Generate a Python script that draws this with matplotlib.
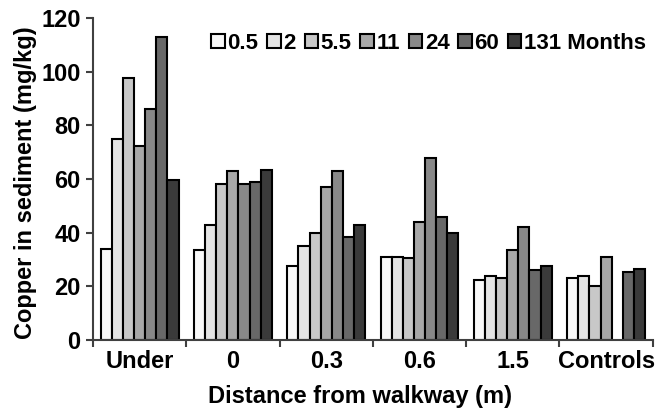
import numpy as np
import matplotlib
matplotlib.use('Agg')
import matplotlib.pyplot as plt

# Copper in sediment (mg/kg) by distance from walkway, one series per age
distances = ['Under', '0', '0.3', '0.6', '1.5', 'Controls']
ages = ['0.5', '2', '5.5', '11', '24', '60', '131 Months']
copper = {
    '0.5': [34, 33.5, 27.5, 31, 22.5, 23],
    '2': [75, 43, 35, 31, 24, 24],
    '5.5': [97.5, 58, 40, 30.5, 23, 20],
    '11': [72.5, 63, 57, 44, 33.5, 31],
    '24': [86, 58, 63, 68, 42, np.nan],
    '60': [113, 58.8, 38.5, 46, 26, 25.5],
    '131 Months': [59.5, 63.5, 43, 40, 27.5, 26.5],
}
shades = ['#f8f8f8', '#e4e4e4', '#c8c8c8', '#a8a8a8', '#888888', '#686868', '#3a3a3a']

plt.rcParams['font.family'] = ['Liberation Sans', 'DejaVu Sans']
plt.rcParams['font.weight'] = 'bold'
plt.rcParams['font.size'] = 17

fig = plt.figure(figsize=(6.62, 4.13), dpi=100)
ax = fig.add_axes([0.1405, 0.177, 0.8455, 0.779])

x = np.arange(len(distances))
width = 0.119
for i, age in enumerate(ages):
    offset = (i - 3) * width
    ax.bar(x + offset, copper[age], width, color=shades[i], edgecolor='black',
           linewidth=1.5, label=age)

ax.set_xlim(-0.5, len(distances) - 0.5)
ax.set_ylim(0, 120)
ax.set_yticks(range(0, 121, 20))
ax.set_xticks(x)
ax.set_xticklabels(distances)
ax.set_xticks(np.arange(-0.5, len(distances), 1), minor=True)
ax.tick_params(axis='x', which='major', length=0, pad=7.5)
ax.tick_params(axis='x', which='minor', length=5, width=1.5, color='#404040', direction='out')
ax.tick_params(axis='y', length=5, width=1.5, color='#404040', direction='out', pad=4)

for side in ['top', 'right']:
    ax.spines[side].set_visible(False)
for side in ['left', 'bottom']:
    ax.spines[side].set_color('#404040')
    ax.spines[side].set_linewidth(1.5)

ax.set_ylabel('Copper in sediment (mg/kg)', fontweight='bold')
ax.set_xlabel('Distance from walkway (m)', fontweight='bold')
ax.xaxis.set_label_coords(0.477, -0.14)
ax.yaxis.set_label_coords(-0.1, 0.488)

ax.legend(ncol=7, frameon=False, loc='upper right', bbox_to_anchor=(1.0, 0.975),
          handlelength=0.6, handleheight=0.6, handletextpad=0.12, columnspacing=0.4,
          borderaxespad=0.1, borderpad=0.2, prop={'weight': 'bold', 'size': 16})

fig.savefig('out.png', dpi=100)
